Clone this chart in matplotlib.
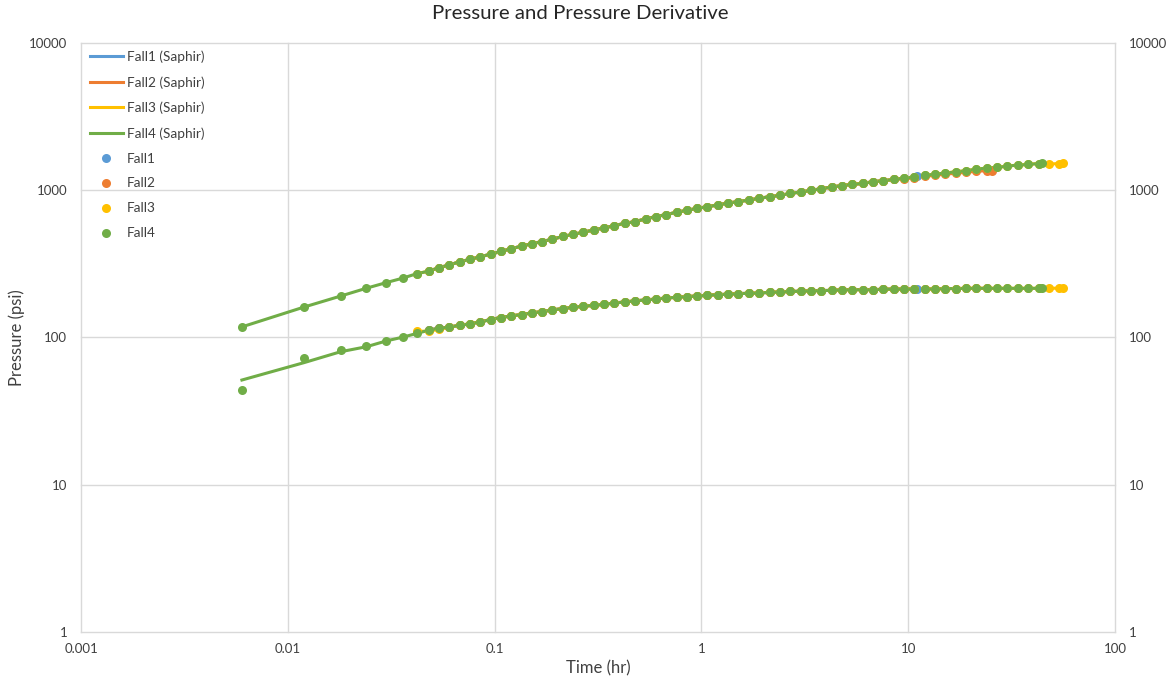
import matplotlib.pyplot as plt

plt.rcParams['font.family'] = ['Lato', 'DejaVu Sans']

# log-sampled elapsed time (hr) shared by the build-ups
t_grid = [0.006, 0.012, 0.018, 0.024, 0.030, 0.036, 0.042, 0.048, 0.054, 0.060,
          0.068, 0.076, 0.085, 0.096, 0.107, 0.120, 0.135, 0.151, 0.170, 0.190,
          0.214, 0.240, 0.269, 0.302, 0.339, 0.380, 0.427, 0.479, 0.537, 0.603,
          0.676, 0.759, 0.851, 0.955, 1.07, 1.20, 1.35, 1.51, 1.70, 1.90,
          2.14, 2.40, 2.69, 3.02, 3.39, 3.80, 4.27, 4.79, 5.37, 6.03,
          6.76, 7.59, 8.51, 9.55, 10.7, 12.0, 13.5, 15.1, 17.0, 19.0,
          21.4, 24.0, 26.9, 30.2, 33.9, 38.0, 42.7, 44.5]

# Fall4 pressure change and derivative (psi)
p4 = [118, 161, 191, 216, 236, 253, 271, 282, 298, 310,
      327, 339, 353, 368, 384, 400, 417, 433, 448, 465,
      485, 502, 518, 538, 555, 575, 596, 612, 639, 662,
      683, 708, 730, 753, 773, 794, 819, 836, 858, 880,
      904, 922, 951, 972, 997, 1024, 1051, 1076, 1095, 1112,
      1142, 1160, 1183, 1209, 1228, 1259, 1287, 1307, 1334, 1355,
      1391, 1413, 1427, 1458, 1481, 1495, 1518, 1535]
dp4 = [44.0, 72.1, 82.1, 87.8, 94.8, 100.5, 106.4, 112.0, 115.6, 117.4,
       121.1, 123.6, 127.5, 132.4, 136.6, 140.0, 143.1, 146.7, 149.9, 153.7,
       157.1, 160.3, 162.8, 165.4, 168.0, 171.5, 174.1, 177.4, 179.6, 182.4,
       185.3, 187.4, 189.4, 191.2, 193.3, 195.4, 196.5, 198.5, 199.4, 200.4,
       202.5, 203.5, 205.2, 206.0, 207.5, 208.0, 208.9, 210.5, 211.0, 211.0,
       211.0, 212.5, 213.0, 213.2, 213.2, 213.2, 213.5, 214.5, 215.0, 215.3,
       215.6, 215.6, 215.6, 215.6, 215.6, 215.6, 215.6, 216.0]
# Saphir model derivative for Fall4 departs from the data at early time
dp4_model = [51.4, 67.5, 80.0, 86.5] + dp4[4:]

# Fall1 ends around 11 hr
t1 = t_grid[7:55] + [11.0]
p1 = p4[7:55] + [1254]
dp1 = dp4[7:55] + [213.0]

# Fall2 runs a little lower at late time and ends around 25 hr
t2 = t_grid[7:53] + [9.55, 10.7, 12.0, 13.5, 15.1, 17.0, 19.0, 21.4, 24.0, 25.3]
p2 = p4[7:53] + [1195, 1212, 1240, 1265, 1283, 1305, 1322, 1345, 1355, 1360]
t2d = t_grid[7:62]
dp2 = dp4[7:62]

# Fall3 is the longest build-up
t3 = t_grid[6:67] + [47.9, 53.7, 56.2]
p3 = p4[6:67] + [1504, 1518, 1520]
dp3 = [110.0, 110.5, 113.5] + dp4[9:67] + [216.0, 216.0, 216.0]

names = ['Fall1', 'Fall2', 'Fall3', 'Fall4']
colors = ['#5B9BD5', '#ED7D31', '#FFC000', '#70AD47']
series = [(t1, p1, t1, dp1, dp1), (t2, p2, t2d, dp2, dp2), (t3, p3, t3, dp3, dp3),
          (t_grid, p4, t_grid, dp4, dp4_model)]

fig = plt.figure(figsize=(11.74, 6.85), dpi=100)
ax = fig.add_axes([0.069, 0.0774, 0.8807, 0.8599])
txt = '#404040'

# model lines first, measured points drawn over them
for name, c, (t, p, td, dp, dpm) in zip(names, colors, series):
    ax.plot(t, p, color=c, lw=2.2, label=name + ' (Saphir)')
    ax.plot(td, dpm, color=c, lw=2.2, label='_nolegend_')
for name, c, (t, p, td, dp, dpm) in zip(names, colors, series):
    ax.plot(t, p, ls='none', marker='o', ms=6.5, mew=0, color=c, label=name)
    ax.plot(td, dp, ls='none', marker='o', ms=6.5, mew=0, color=c, label='_nolegend_')

xticks = [0.001, 0.01, 0.1, 1, 10, 100]
yticks = [1, 10, 100, 1000, 10000]

ax.set_xscale('log')
ax.set_yscale('log')
ax.set_xlim(0.001, 100)
ax.set_ylim(1, 10000)
ax.set_xticks(xticks, ['0.001', '0.01', '0.1', '1', '10', '100'])
ax.set_yticks(yticks, [str(v) for v in yticks])
ax.minorticks_off()
ax.grid(True, color='#D9D9D9', lw=1)
ax.set_axisbelow(True)
for gl in ax.get_xgridlines() + ax.get_ygridlines():
    gl.set_clip_on(False)
ax.tick_params(length=0, labelsize=9.5, labelcolor=txt)
ax.tick_params(axis='x', pad=8)
ax.tick_params(axis='y', pad=10)
for s in ax.spines.values():
    s.set_visible(False)

ax2 = ax.twinx()
ax2.set_yscale('log')
ax2.set_ylim(1, 10000)
ax2.set_yticks(yticks, [str(v) for v in yticks])
ax2.minorticks_off()
ax2.tick_params(length=0, labelsize=9.5, labelcolor=txt, pad=10)
for s in ax2.spines.values():
    s.set_visible(False)

ax.set_xlabel('Time (hr)', fontsize=12, color=txt, labelpad=4)
ax.set_ylabel('Pressure (psi)', fontsize=12, color=txt, labelpad=3)
fig.text(0.494, 0.981, 'Pressure and Pressure Derivative', ha='center', va='center',
         fontsize=14.7, color='#262626')

ax.legend(loc='upper left', bbox_to_anchor=(0.0087, 0.987), frameon=False,
          borderaxespad=0, borderpad=0, fontsize=9.8, labelcolor=txt,
          handlelength=2.4, handletextpad=0.3, labelspacing=0.95, numpoints=1)

fig.savefig('out.png', dpi=100)
